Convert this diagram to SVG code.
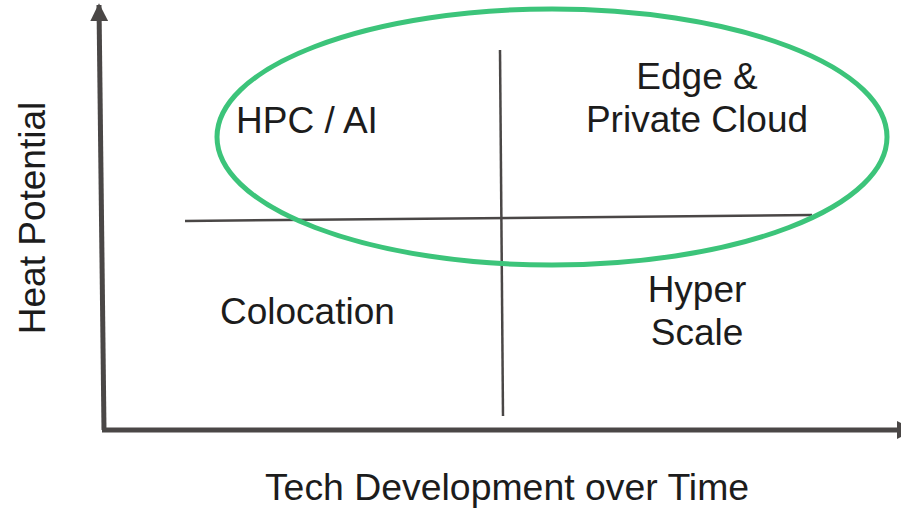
<svg xmlns="http://www.w3.org/2000/svg" width="901" height="508" viewBox="0 0 901 508">
<style>
.t{font-family:"Liberation Sans",Arial,sans-serif;font-size:37px;fill:#1c1c1c}
.ax{stroke:#4a4746;stroke-width:5;fill:none}
.dv{stroke:#4a4746;stroke-width:2.5;fill:none}
</style>
<defs>
<marker id="ah" viewBox="0 0 10 10" refX="9" refY="5" markerWidth="3.6" markerHeight="3.6" orient="auto" markerUnits="strokeWidth">
<path d="M0,0 L10,5 L0,10 Z" fill="#4a4746"/>
</marker>
</defs>
<g id="connectors">
<line class="ax" x1="104" y1="430" x2="99" y2="5" marker-end="url(#ah)"/>
<line class="ax" x1="102" y1="430" x2="913" y2="430" marker-end="url(#ah)"/>
<line class="dv" x1="185" y1="221" x2="812" y2="215"/>
<line class="dv" x1="500" y1="50" x2="503" y2="416"/>
</g>
<g id="ellipse">
<ellipse cx="552" cy="137" rx="335" ry="128" fill="none" stroke="#3cc47a" stroke-width="5"/>
</g>
<g id="hpc"><text class="t" x="236" y="133">HPC / AI</text></g>
<g id="edge"><text class="t" x="697" y="89" text-anchor="middle">Edge &amp;</text><text class="t" x="697" y="132" text-anchor="middle">Private Cloud</text></g>
<g id="colo"><text class="t" x="220" y="324">Colocation</text></g>
<g id="hyper"><text class="t" x="697" y="302" text-anchor="middle">Hyper</text><text class="t" x="697" y="345" text-anchor="middle">Scale</text></g>
<g id="yaxis"><text class="t" transform="translate(45,218) rotate(-90)" text-anchor="middle">Heat Potential</text></g>
<g id="xaxis"><text class="t" x="507" y="500" text-anchor="middle" style="font-size:37.4px">Tech Development over Time</text></g>
</svg>
